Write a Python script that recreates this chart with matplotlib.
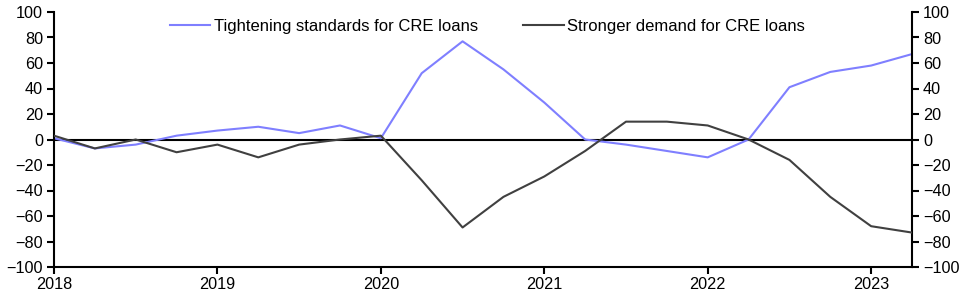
import matplotlib.pyplot as plt

# quarterly observations, 2018 Q1 to 2023 Q2
quarters = [2018 + i * 0.25 for i in range(22)]
tightening = [1, -7, -4, 3, 7, 10, 5, 11, 1, 52, 77, 55, 29, 0, -4, -9, -14, 0, 41, 53, 58, 67]
demand = [3, -7, 0, -10, -4, -14, -4, 0, 3, -32, -69, -45, -29, -9, 14, 14, 11, 0, -16, -45, -68, -73]

year_ticks = [2018, 2019, 2020, 2021, 2022, 2023]
y_ticks = list(range(-100, 101, 20))

plt.rcParams['font.family'] = ['Liberation Sans', 'DejaVu Sans']

fig = plt.figure(figsize=(9.67, 2.97), dpi=100)
ax = fig.add_axes([54 / 967, 30 / 297, 858 / 967, 255 / 297])

ax.axhline(0, color='black', lw=1.5, zorder=1)
ax.plot(quarters, tightening, color='#7f7fff', lw=1.5, label='Tightening standards for CRE loans', zorder=2)
ax.plot(quarters, demand, color='#404040', lw=1.5, label='Stronger demand for CRE loans', zorder=3)

ax.set_xlim(2018, 2023.25)
ax.set_ylim(-100, 100)
ax.set_xticks(year_ticks)
ax.set_xticklabels([str(y) for y in year_ticks])
ax.set_yticks(y_ticks)

ax.spines['top'].set_visible(False)
for side in ['left', 'right', 'bottom']:
    ax.spines[side].set_linewidth(1.5)
ax.tick_params(axis='both', labelsize=11.7, width=1.5, length=5, direction='out')
ax.tick_params(axis='y', right=True, labelright=True, pad=3)
ax.tick_params(axis='x', pad=2)

ax.legend(loc='center', bbox_to_anchor=(0.505, 0.945), ncol=2, frameon=False,
          fontsize=12, handlelength=2.45, handletextpad=0.2, columnspacing=2.7)

fig.savefig('out.png', dpi=100)
